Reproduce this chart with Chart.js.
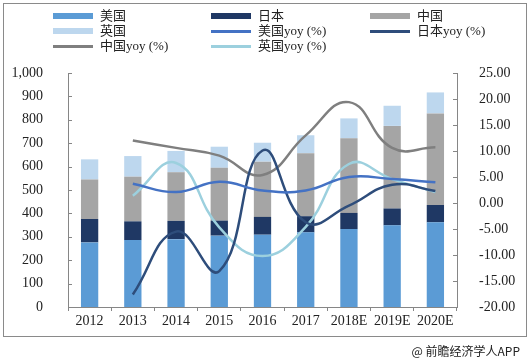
<!DOCTYPE html>
<html>
<head>
<meta charset="utf-8">
<script src="https://cdn.jsdelivr.net/npm/chart.js@4.4.1/dist/chart.umd.min.js"></script>
<style>
  html,body{margin:0;padding:0;background:#fff;}
  #wrap{position:relative;width:532px;height:363px;overflow:hidden;background:#fff;}
  #frame{position:absolute;left:3px;top:3px;width:524px;height:334px;border:1px solid #8a8a8a;box-sizing:border-box;pointer-events:none;}
  canvas{position:absolute;left:0;top:0;}
  .lg{position:absolute;font-family:"Liberation Serif","Noto Sans CJK SC",serif;font-size:13px;color:#222;line-height:15px;white-space:nowrap;}
  .sw{position:absolute;}
  #foot{position:absolute;right:12px;top:342px;font-family:"Noto Sans CJK SC","Noto Sans",sans-serif;font-size:12px;color:#222;}
</style>
</head>
<body>
<div id="wrap">
  <canvas id="c" width="532" height="363"></canvas>
  <div id="frame"></div>
  <div id="legend"></div>
  <div id="foot">@ 前瞻经济学人APP</div>
</div>
<script>
const categories = ["2012","2013","2014","2015","2016","2017","2018E","2019E","2020E"];
const usValues    = [276, 286, 290, 305, 309, 319, 333, 349, 362];
const japanValues = [100,  80,  78,  64,  76,  69,  69,  72,  74];
const chinaValues = [169, 191, 208, 226, 236, 269, 319, 353, 391];
const ukValues    = [ 86,  88,  91,  90,  81,  77,  85,  86,  90];
const usYoy    = [null,  3.7,  2.1,   4.1,  2.4,  2.4,  5.0,  4.6, 4.0];
const japanYoy = [null, -17.6, -5.5, -13.1, 10.1, -3.7, -0.5,  3.5, 2.3];
const chinaYoy = [null, 12.0, 10.6,   9.1,  5.4, 13.0, 19.4, 10.6, 10.7];
const ukYoy    = [null,  1.4,  7.7,  -4.7, -10.2, -4.6, 7.5,  4.6, 2.1];
const leftTicks = {min:0, max:1000, step:100};
const rightTicks = {min:-20, max:25, step:5};

const C = {
  us:'#5B9BD5', jp:'#1F3864', cn:'#A5A5A5', uk:'#BDD7EE',
  usL:'#4472C4', jpL:'#2E4D7B', cnL:'#7F7F7F', ukL:'#9CD0DE'
};

const legendItems = [
  {t:'美国', c:C.us, bar:true, x:53, y:16},
  {t:'日本', c:C.jp, bar:true, x:211, y:16},
  {t:'中国', c:C.cn, bar:true, x:370, y:16},
  {t:'英国', c:C.uk, bar:true, x:53, y:31},
  {t:'美国yoy (%)', c:C.usL, bar:false, x:211, y:31},
  {t:'日本yoy (%)', c:C.jpL, bar:false, x:370, y:31},
  {t:'中国yoy (%)', c:C.cnL, bar:false, x:53, y:46},
  {t:'英国yoy (%)', c:C.ukL, bar:false, x:211, y:46}
];
const lg = document.getElementById('legend');
legendItems.forEach(it=>{
  const s = document.createElement('div');
  s.className='sw';
  const h = it.bar?6:3;
  s.style.cssText = `left:${it.x}px;top:${it.y-h/2}px;width:40px;height:${h}px;background:${it.c};`;
  lg.appendChild(s);
  const t = document.createElement('div');
  t.className='lg';
  t.textContent = it.t;
  t.style.left = (it.x+47)+'px';
  t.style.top = (it.y-8)+'px';
  lg.appendChild(t);
});

const axisColor = '#868686';
const tickFont = {family:'"Liberation Serif","Times New Roman",serif', size:14};

const inwardTicks = {
  id:'inwardTicks',
  afterDraw(chart){
    const ctx = chart.ctx;
    ctx.save();
    ctx.strokeStyle = axisColor; ctx.lineWidth = 1;
    const y = chart.scales.y, y1 = chart.scales.y1;
    y.ticks.forEach(t=>{
      const p = Math.round(y.getPixelForValue(t.value))+0.5;
      ctx.beginPath(); ctx.moveTo(y.right, p); ctx.lineTo(y.right+4, p); ctx.stroke();
    });
    y1.ticks.forEach(t=>{
      const p = Math.round(y1.getPixelForValue(t.value))+0.5;
      ctx.beginPath(); ctx.moveTo(y1.left, p); ctx.lineTo(y1.left-4, p); ctx.stroke();
    });
    ctx.restore();
  }
};

function lineDs(label, data, color){
  return {type:'line', label, data, yAxisID:'y1', borderColor:color, backgroundColor:color,
    borderWidth:2.5, pointRadius:0, tension:0.45, fill:false, order:1, spanGaps:false};
}
function barDs(label, data, color){
  return {type:'bar', label, data, yAxisID:'y', backgroundColor:color, borderWidth:0,
    barPercentage:0.4, categoryPercentage:1, order:2, stack:'s'};
}

new Chart(document.getElementById('c'), {
  data:{
    labels:categories,
    datasets:[
      barDs('美国', usValues, C.us),
      barDs('日本', japanValues, C.jp),
      barDs('中国', chinaValues, C.cn),
      barDs('英国', ukValues, C.uk),
      lineDs('美国yoy (%)', usYoy, C.usL),
      lineDs('日本yoy (%)', japanYoy, C.jpL),
      lineDs('中国yoy (%)', chinaYoy, C.cnL),
      lineDs('英国yoy (%)', ukYoy, C.ukL)
    ]
  },
  options:{
    responsive:false, animation:false,
    devicePixelRatio:1,
    layout:{padding:{left:0,right:0,top:73,bottom:25}},
    plugins:{legend:{display:false}, tooltip:{enabled:false}},
    scales:{
      x:{
        stacked:true,
        grid:{display:true, drawOnChartArea:false, offset:true, tickLength:4, color:axisColor},
        border:{color:axisColor, width:1},
        ticks:{font:tickFont, color:'#222', padding:2, maxRotation:0, autoSkip:false},
        afterFit(s){ s.height = 31; }
      },
      y:{
        stacked:true, position:'left',
        min:leftTicks.min, max:leftTicks.max,
        grid:{display:false},
        border:{color:axisColor, width:1},
        ticks:{stepSize:leftTicks.step, font:tickFont, color:'#222', padding:17,
          callback:v=>v.toLocaleString('en-US')},
        afterFit(s){ s.width = 68; }
      },
      y1:{
        position:'right',
        min:rightTicks.min, max:rightTicks.max,
        grid:{display:false},
        border:{color:axisColor, width:1},
        ticks:{stepSize:rightTicks.step, font:tickFont, color:'#222', padding:14,
          callback:v=>Number(v).toFixed(2)},
        afterFit(s){ s.width = 75; }
      }
    }
  },
  plugins:[inwardTicks]
});
</script>
</body>
</html>
